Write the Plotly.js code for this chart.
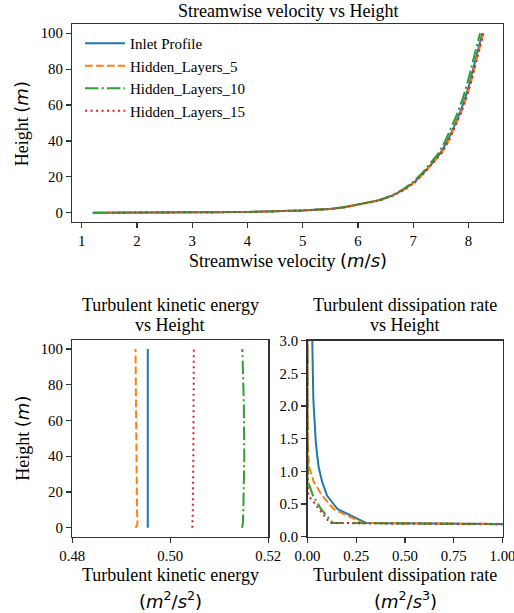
<!DOCTYPE html>
<html>
<head>
<meta charset="utf-8">
<script src="https://cdn.plot.ly/plotly-3.0.1.min.js"></script>
<style>html,body{margin:0;padding:0;background:#fff;}#chart{width:514px;height:613px;}</style>
</head>
<body>
<div id="chart"></div>
<script>
// ---------- data ----------
const seriesNames = ["Inlet Profile", "Hidden_Layers_5", "Hidden_Layers_10", "Hidden_Layers_15"];

// Streamwise velocity vs Height
const velHeight = [0, 0.1, 0.4, 1.3, 2.1, 3.0, 4.3, 5.5, 7.1, 9.5, 12.7, 17, 22, 27, 33.2, 40, 48, 56, 64, 72, 80.7, 90, 100];
const velInlet  = [1.2, 3.0, 4.0, 5.0, 5.5, 5.75, 5.98, 6.15, 6.40, 6.62, 6.82, 7.02, 7.18, 7.33, 7.49, 7.62, 7.74, 7.85, 7.94, 8.02, 8.09, 8.17, 8.25];
const velHL5    = [1.45, 3.0, 4.0, 5.0, 5.5, 5.75, 5.99, 6.16, 6.41, 6.63, 6.83, 7.03, 7.19, 7.34, 7.51, 7.64, 7.76, 7.87, 7.96, 8.04, 8.11, 8.19, 8.27];
const velHL10   = [1.2, 3.0, 4.0, 5.0, 5.5, 5.74, 5.97, 6.14, 6.39, 6.60, 6.80, 6.99, 7.16, 7.30, 7.46, 7.58, 7.70, 7.81, 7.90, 7.98, 8.05, 8.13, 8.21];
const velHL15   = [1.45, 3.0, 4.0, 5.0, 5.5, 5.75, 5.99, 6.16, 6.41, 6.63, 6.83, 7.03, 7.19, 7.34, 7.51, 7.64, 7.76, 7.87, 7.96, 8.04, 8.11, 8.19, 8.27];

// Turbulent kinetic energy vs Height
const tkeHeight = [0, 2, 10, 40, 70, 100];
const tkeInlet  = [0.4954, 0.4954, 0.4954, 0.4954, 0.4954, 0.4954];
const tkeHL5    = [0.4929, 0.4933, 0.4932, 0.4931, 0.4930, 0.4929];
const tkeHL10   = [0.5146, 0.5148, 0.5149, 0.5151, 0.5150, 0.5147];
const tkeHL15   = [0.5045, 0.5045, 0.5046, 0.5047, 0.5047, 0.5048];

// Turbulent dissipation rate vs Height
const epsHeight = [0, 0.21, 0.42, 0.63, 0.84, 1.05, 1.26, 1.47, 2.1, 3.15, 5];
const epsInlet  = [10, 0.30, 0.155, 0.10, 0.075, 0.058, 0.049, 0.042, 0.030, 0.019, 0.012];
const epsHL5    = [10, 0.285, 0.135, 0.075, 0.032, 0.010, 0.004, 0.001, 0, 0, 0];
const epsHL10   = [10, 0.13, 0.07, 0.028, 0.003, 0, 0, 0, 0, 0, 0];
const epsHL15   = [10, 0.115, 0.06, 0.005, 0, 0, 0, 0, 0, 0, 0];

// tick values
const velTicks = [1, 2, 3, 4, 5, 6, 7, 8];
const heightTicks = [0, 20, 40, 60, 80, 100];
const tkeTicks = [0.48, 0.50, 0.52];
const epsXTicks = [0, 0.25, 0.5, 0.75, 1.0];
const epsYTicks = [0, 0.5, 1.0, 1.5, 2.0, 2.5, 3.0];

// ---------- styles ----------
const colors = ["#1f77b4", "#ff7f0e", "#2ca02c", "#d62728"];
const dashes = ["solid", "7.7px,3.3px", "13.3px,3.3px,2.1px,3.3px", "2.1px,3.4px"];
const W = 514, H = 613;
const SERIF = "Liberation Serif";
const LBL = 18, TCK = 14.8, LEG = 15;
const px = v => v / W;
const py = v => 1 - v / H;

const traces = [];
const velSets = [velInlet, velHL5, velHL10, velHL15];
const tkeSets = [tkeInlet, tkeHL5, tkeHL10, tkeHL15];
const epsSets = [epsInlet, epsHL5, epsHL10, epsHL15];
for (let i = 0; i < 4; i++) {
  traces.push({x: velSets[i], y: velHeight, type: "scatter", mode: "lines", name: seriesNames[i],
    line: {color: colors[i], width: 2, dash: dashes[i]}, xaxis: "x", yaxis: "y", showlegend: true});
}
for (let i = 0; i < 4; i++) {
  traces.push({x: tkeSets[i], y: tkeHeight, type: "scatter", mode: "lines", name: seriesNames[i],
    line: {color: colors[i], width: 2, dash: dashes[i]}, xaxis: "x2", yaxis: "y2", showlegend: false});
}
for (let i = 0; i < 4; i++) {
  traces.push({x: epsSets[i], y: epsHeight, type: "scatter", mode: "lines", name: seriesNames[i],
    line: {color: colors[i], width: 2, dash: dashes[i]}, xaxis: "x3", yaxis: "y3", showlegend: false});
}

const axBase = {
  showline: true, mirror: true, linecolor: "#333", linewidth: 1.5,
  ticks: "outside", ticklen: 5, tickwidth: 1.3, tickcolor: "#333",
  showgrid: false, zeroline: false, fixedrange: true,
  ticklabeloverflow: "allow",
  tickfont: {family: SERIF, size: TCK, color: "#000"}
};
function ax(o) { return Object.assign({}, axBase, o); }

const MATH = 'font-family:DejaVu Sans';
const ann = (text, x, y, size, angle) => ({
  text: text, x: px(x), y: py(y), xref: "paper", yref: "paper", showarrow: false,
  xanchor: "center", yanchor: "middle", textangle: angle || 0,
  font: {family: SERIF, size: size, color: "#000"}
});

const layout = {
  width: W, height: H,
  margin: {l: 0, r: 0, t: 0, b: 0},
  paper_bgcolor: "#fff", plot_bgcolor: "#fff",
  font: {family: SERIF, size: TCK, color: "#000"},
  showlegend: true,
  legend: {x: px(80), y: py(27), xanchor: "left", yanchor: "top", bgcolor: "rgba(0,0,0,0)",
    borderwidth: 0, itemwidth: 40, font: {family: SERIF, size: LEG, color: "#000"}, tracegroupgap: 0},
  xaxis: ax({domain: [px(72.3), px(502.7)], range: [0.83, 8.62], tickvals: velTicks, anchor: "y"}),
  yaxis: ax({domain: [py(221.7), py(24.3)], range: [-5, 105], tickvals: heightTicks, anchor: "x"}),
  xaxis2: ax({domain: [px(72.3), px(268.3)], range: [0.48, 0.52], tickvals: tkeTicks, tickformat: ".2f", anchor: "y2"}),
  yaxis2: ax({domain: [py(536.7), py(340)], range: [-5, 105], tickvals: heightTicks, anchor: "x2"}),
  xaxis3: ax({domain: [px(307.5), px(502.5)], range: [0, 1], tickvals: epsXTicks, tickformat: ".2f", anchor: "y3"}),
  yaxis3: ax({domain: [py(536.7), py(340.7)], range: [0, 3], tickvals: epsYTicks, tickformat: ".1f", anchor: "x3"}),
  annotations: [
    ann("Streamwise velocity vs Height", 287.5, 11, LBL),
    ann('Streamwise velocity <span style="' + MATH + '">(<i>m</i>/<i>s</i>)</span>', 287.5, 261, LBL),
    ann('Height <span style="' + MATH + '">(<i>m</i>)</span>', 21.7, 123.5, LBL, -90),
    ann("Turbulent kinetic energy", 170.3, 305, LBL),
    ann("vs Height", 170.3, 325, LBL),
    ann("Turbulent kinetic energy", 170.3, 575, LBL),
    ann('<span style="' + MATH + '">(<i>m</i><sup>2</sup>/<i>s</i><sup>2</sup>)</span>', 170.3, 600, LBL),
    ann('Height <span style="' + MATH + '">(<i>m</i>)</span>', 21.7, 438, LBL, -90),
    ann("Turbulent dissipation rate", 405, 305, LBL),
    ann("vs Height", 405, 325, LBL),
    ann("Turbulent dissipation rate", 405, 575, LBL),
    ann('<span style="' + MATH + '">(<i>m</i><sup>2</sup>/<i>s</i><sup>3</sup>)</span>', 405, 600, LBL)
  ]
};

Plotly.newPlot("chart", traces, layout, {staticPlot: true, displayModeBar: false});
</script>
</body>
</html>
